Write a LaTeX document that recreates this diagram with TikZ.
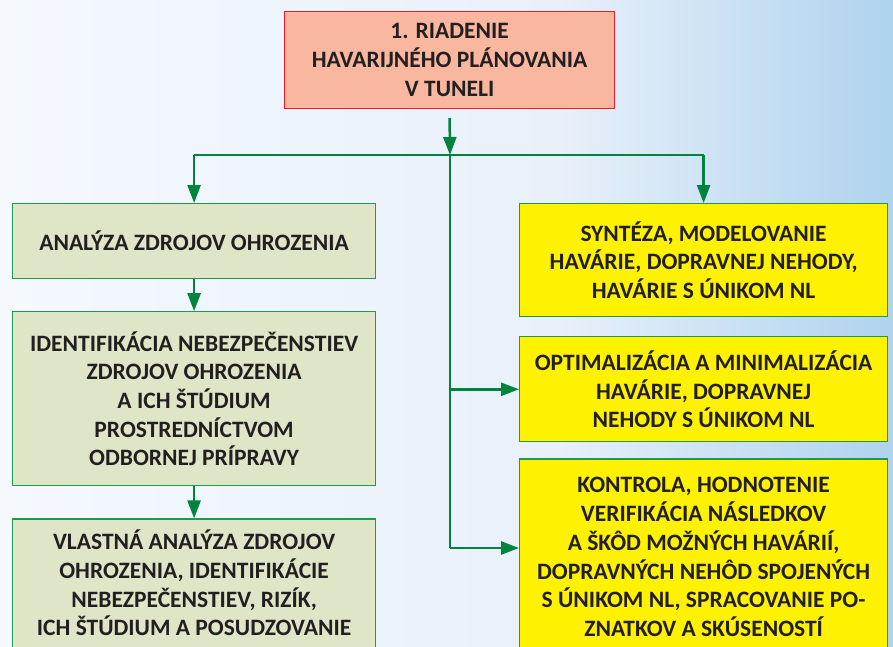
\documentclass[tikz,border=0pt]{standalone}
\usepackage{fontspec}
\setmainfont{Carlito}
\usepackage{tikz}
\usetikzlibrary{arrows.meta, positioning}
\definecolor{bgL}{HTML}{F5F9FE}
\definecolor{bgM}{HTML}{E8F0FA}
\definecolor{bgR}{HTML}{AFD3EE}
\definecolor{inktext}{HTML}{231F20}
\definecolor{flowgreen}{HTML}{00843D}
\definecolor{boxgreen}{HTML}{1E9A4C}
\definecolor{salmon}{HTML}{F9B7A0}
\definecolor{alarmred}{HTML}{ED1C24}
\definecolor{sage}{HTML}{DFE6C8}
\definecolor{signyellow}{HTML}{FFF200}
\tikzset{
  box/.style={
    rectangle, align=center, inner sep=0pt,
    font=\fontsize{23.5}{28.7}\selectfont\bfseries, text=inktext,
    line width=1.2pt
  },
  headbox/.style={box, draw=alarmred, fill=salmon},
  stepbox/.style={box, draw=boxgreen, fill=sage, minimum width=363pt},
  taskbox/.style={box, draw=boxgreen, fill=signyellow, minimum width=368pt},
  flow/.style={-{Triangle[length=18pt, width=13pt]}, line width=2.5pt, draw=flowgreen},
  trunk/.style={line width=2.5pt, draw=flowgreen},
}
\begin{document}
\begin{tikzpicture}[x=1pt, y=-1pt, node distance=32pt]
    %% Background
    \clip (0,0) rectangle (893,646);
    \shade[left color=bgL, right color=bgM] (0,0) rectangle (560,646);
    \shade[left color=bgM, right color=bgR] (559.5,0) rectangle (893,646);

    %% Main task
    \node[headbox, anchor=north west, minimum width=330pt, minimum height=97pt] (top) at (284,11)
      {1. RIADENIE\\HAVARIJNÉHO PLÁNOVANIA\\V TUNELI};

    %% Left column
    \node[stepbox, anchor=north west, minimum height=75pt] (ana) at (12,203)
      {ANALÝZA ZDROJOV OHROZENIA};
    \node[stepbox, minimum height=174pt, below=of ana] (ident)
      {IDENTIFIKÁCIA NEBEZPEČENSTIEV\\ZDROJOV OHROZENIA\\A ICH ŠTÚDIUM\\PROSTREDNÍCTVOM\\ODBORNEJ PRÍPRAVY};
    \node[stepbox, minimum height=180pt, below=of ident, text depth=52pt] (vlast)
      {VLASTNÁ ANALÝZA ZDROJOV\\OHROZENIA, IDENTIFIKÁCIE\\NEBEZPEČENSTIEV, RIZÍK,\\ICH ŠTÚDIUM A POSUDZOVANIE};

    %% Right column
    \node[taskbox, anchor=north west, minimum height=113pt] (synt) at (519,203)
      {SYNTÉZA, MODELOVANIE\\HAVÁRIE, DOPRAVNEJ NEHODY,\\HAVÁRIE S ÚNIKOM NL};
    \node[taskbox, minimum height=105pt, below=19pt of synt] (opti)
      {OPTIMALIZÁCIA A MINIMALIZÁCIA\\HAVÁRIE, DOPRAVNEJ\\NEHODY S ÚNIKOM NL};
    \node[taskbox, minimum height=200pt, below=16pt of opti, text depth=4pt] (kont)
      {KONTROLA, HODNOTENIE\\VERIFIKÁCIA NÁSLEDKOV\\A ŠKÔD MOŽNÝCH HAVÁRIÍ,\\DOPRAVNÝCH NEHÔD SPOJENÝCH\\S ÚNIKOM NL, SPRACOVANIE PO-\\ZNATKOV A SKÚSENOSTÍ};

    %% Arrows
    \coordinate (split) at (450,155);
    \coordinate (low) at (450,548);
    \draw[flow] ([yshift=-9pt]top.south) -- (split);
    \draw[trunk] (ana.north |- split) -- (synt.north |- split);
    \draw[flow] (ana.north |- split) -- (ana.north);
    \draw[flow] (synt.north |- split) -- (synt.north);
    \draw[trunk] (split) -- (low);
    \draw[flow] (split |- opti.west) -- (opti.west);
    \draw[flow] (low) -- (low -| kont.west);
    \draw[flow] (ana) -- (ident);
    \draw[flow] (ident) -- (vlast);

  \end{tikzpicture}
\end{document}
